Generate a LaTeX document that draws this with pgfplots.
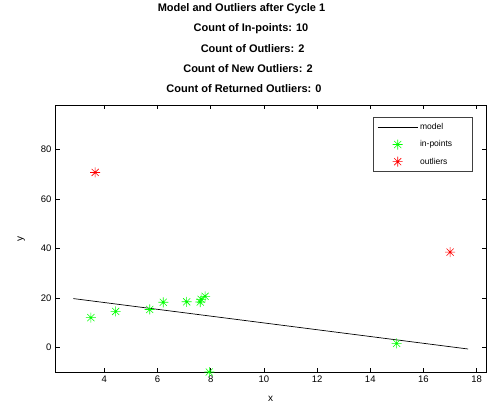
\documentclass[border=0pt]{standalone}
\usepackage{fontspec}
\setmainfont{Liberation Sans}
\usepackage{pgfplots}
\pgfplotsset{compat=1.18}
\pgfdeclareplotmark{ast8}{%
 \pgfpathmoveto{\pgfqpoint{-\pgfplotmarksize}{0pt}}\pgfpathlineto{\pgfqpoint{\pgfplotmarksize}{0pt}}%
 \pgfpathmoveto{\pgfqpoint{0pt}{-\pgfplotmarksize}}\pgfpathlineto{\pgfqpoint{0pt}{\pgfplotmarksize}}%
 \pgfpathmoveto{\pgfqpoint{-0.7071\pgfplotmarksize}{-0.7071\pgfplotmarksize}}\pgfpathlineto{\pgfqpoint{0.7071\pgfplotmarksize}{0.7071\pgfplotmarksize}}%
 \pgfpathmoveto{\pgfqpoint{-0.7071\pgfplotmarksize}{0.7071\pgfplotmarksize}}\pgfpathlineto{\pgfqpoint{0.7071\pgfplotmarksize}{-0.7071\pgfplotmarksize}}%
 \pgfusepathqstroke}
\begin{document}
\begin{tikzpicture}[x=1bp,y=1bp]
\useasboundingbox (-55,-36) rectangle (434,372);
\begin{axis}[
  at={(0,0)}, anchor=south west,
  scale only axis, width=431bp, height=267bp,
  xmin=2.15, xmax=18.35, ymin=-10, ymax=98,
  xtick={4,6,...,18}, ytick={0,20,...,80},
  tick align=inside, tick pos=both,
  major tick length=4.5bp,
  axis line style={line width=0.6pt},
  every tick/.style={line width=0.5pt},
  tick label style={font=\fontsize{9.5bp}{11bp}\selectfont},
  /pgf/number format/assume math mode=true,
  xlabel={x}, ylabel={y},
  label style={font=\fontsize{10bp}{12bp}\selectfont},
  xlabel style={yshift=-7bp},
  ylabel style={yshift=9bp},
  clip=false,
  legend style={at={(0.9686,0.954)}, anchor=north east,
    font=\fontsize{8.5bp}{10bp}\selectfont, draw=black!75, line width=0.6pt,
    row sep=5.5bp, inner xsep=4bp, inner ysep=4bp},
  legend cell align=left,
  legend image code/.code={\draw[mark repeat=2,mark phase=2,#1] plot coordinates {(0bp,0bp) (20bp,0bp) (40bp,0bp)};},
]
\addplot[black, line width=0.7pt] coordinates {(2.84,19.7) (17.68,-0.7)};
\addlegendentry{model}
\addplot[only marks, mark=ast8, mark size=5bp, color={rgb,1:red,0;green,1;blue,0}, line width=0.6pt] coordinates {
 (3.50,12.0) (4.43,14.5) (5.71,15.3) (6.22,18.2) (7.10,18.4)
 (7.61,18.3) (7.64,19.4) (7.79,20.6) (7.95,-10.0) (14.99,1.6)};
\addlegendentry{in-points\hspace*{14bp}}
\addplot[only marks, mark=ast8, mark size=5bp, color={rgb,1:red,1;green,0;blue,0}, line width=0.6pt] coordinates {
 (3.66,70.7) (17.00,38.5)};
\addlegendentry{outliers}
\end{axis}
\begin{scope}[every node/.style={font=\fontsize{11bp}{13bp}\selectfont\bfseries, inner sep=0pt}]
\node at (186.5,363) {Model and Outliers after Cycle 1};
\node at (196,343) {Count of In-points: 10};
\node at (197.6,323) {Count of Outliers: 2};
\node at (193,303) {Count of New Outliers: 2};
\node at (189,283) {Count of Returned Outliers: 0};
\end{scope}
\end{tikzpicture}
\end{document}
